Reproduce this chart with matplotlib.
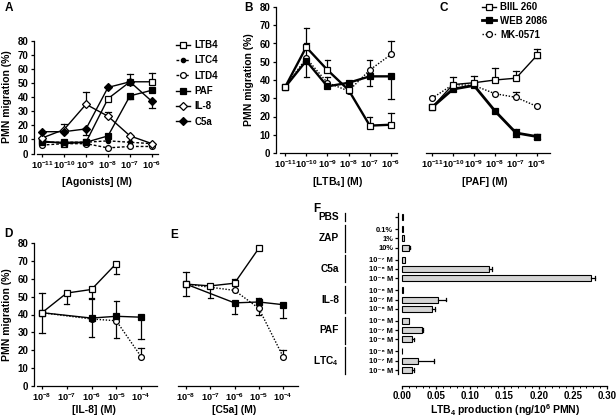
import numpy as np
import matplotlib
matplotlib.use("Agg")
import matplotlib.pyplot as plt
from matplotlib.transforms import blended_transform_factory
from matplotlib.lines import Line2D

# ---------------- data ----------------
# Panel A : migration vs agonist concentration (log10 M)
a_exp = [-11, -10, -9, -8, -7, -6]
a_ltb4 = [9, 7, 8, 39, 51, 51]
a_ltc4 = [8, 8, 8, 9, 8, 7]
a_ltd4 = [6, 7, 7, 4, 5, 5]
a_paf = [8, 8, 8, 12.5, 41, 45]
a_il8 = [11, 17, 35, 26.5, 12.5, 7]
a_c5a = [15.5, 15.5, 17.5, 47, 51, 37]
a_ltb4_hi = [0, 0, 0, 0, 0, 6]
a_paf_lo = [0, 0, 0, 0, 2, 0]
a_il8_hi = [0, 3.7, 8.5, 3, 0, 0]
a_c5a_hi = [0, 0, 0, 0, 5.5, 0]
a_c5a_lo = [0, 0, 4, 0, 0, 4.5]

# Panel B : [LTB4]
b_exp = [-11, -10, -9, -8, -7, -6]
b_biil = [36, 58, 45.5, 34.5, 15, 15.5]
b_biil_hi = [0, 10.5, 5.5, 0, 5, 6.5]
b_web = [36, 50.5, 36.5, 38.5, 42, 42]
b_web_lo = [0, 9, 0, 0, 5.5, 12.5]
b_mk = [36, 52, 38.5, 34, 45.5, 54]
b_mk_hi = [0, 8, 3, 0, 5.5, 7.5]

# Panel C : [PAF]
c_exp = [-11, -10, -9, -8, -7, -6]
c_biil = [25, 37.5, 38.5, 40, 41, 53.5]
c_biil_hi = [0, 4, 3.5, 6.5, 4, 3.5]
c_biil_lo = [0, 0, 0, 0, 0, 1.5]
c_web = [25, 35, 37, 23, 11, 9]
c_web_hi = [0, 0, 0, 0, 2, 1.5]
c_web_lo = [0, 0, 0, 0, 2, 1.5]
c_mk = [30, 37.5, 37, 32.5, 30.5, 25.5]
c_mk_hi = [0, 0, 0, 0, 3, 0]

# Panel D : [IL-8]
d_ticks = [-8, -7, -6, -5, -4]
d_biil_x = [-8, -7, -6, -5]
d_biil = [41, 52, 54, 68.5]
d_biil_lo = [0, 6, 5, 6]
d_web_x = [-8, -6, -5, -4]
d_web = [41, 38, 39, 38.5]
d_web_hi = [11.3, 10.5, 8.3, 0]
d_web_lo = [11.3, 10.5, 12.2, 12]
d_mk_x = [-8, -6, -5, -4]
d_mk = [41, 37.5, 36.5, 16.5]
d_mk_hi = [0, 0, 0, 5]

# Panel E : [C5a]
e_ticks = [-8, -7, -6, -5, -4]
e_biil_x = [-8, -7, -6, -5]
e_biil = [57, 56, 57.5, 77]
e_biil_hi = [0, 0, 2.5, 0]
e_biil_lo = [0, 6.5, 0, 0]
e_web_x = [-8, -6, -5, -4]
e_web = [57, 46.5, 47, 45.5]
e_web_hi = [6.5, 0, 2.5, 0]
e_web_lo = [6.5, 6, 0, 7.5]
e_mk_x = [-8, -6, -5, -4]
e_mk = [57, 53.5, 43.5, 16.5]
e_mk_hi = [0, 0, 0, 3.5]
e_mk_lo = [0, 0, 4, 0]

# Panel F : LTB4 production
f_groups = ["PBS", "ZAP", "C5a", "IL-8", "PAF", "LTC$_4$"]
f_sub = [[""],
         ["0.1%", "1%", "10%"],
         ["10⁻⁷ M", "10⁻⁶ M", "10⁻⁵ M"],
         ["10⁻⁸ M", "10⁻⁷ M", "10⁻⁶ M"],
         ["10⁻⁸ M", "10⁻⁷ M", "10⁻⁶ M"],
         ["10⁻⁸ M", "10⁻⁷ M", "10⁻⁶ M"]]
f_vals = [[0.001],
          [0.001, 0.003, 0.010],
          [0.004, 0.128, 0.277],
          [0.002, 0.052, 0.044],
          [0.010, 0.029, 0.015],
          [0.0, 0.024, 0.015]]
f_err = [[0.0],
         [0.0, 0.0, 0.002],
         [0.0, 0.004, 0.005],
         [0.0, 0.013, 0.004],
         [0.0, 0.002, 0.002],
         [0.0, 0.023, 0.002]]
f_xticks = [0.00, 0.05, 0.10, 0.15, 0.20, 0.25, 0.30]

# ---------------- style ----------------
plt.rcParams.update({
    "font.family": ["Liberation Sans", "DejaVu Sans"],
    "font.weight": "bold",
    "mathtext.fontset": "custom",
    "mathtext.rm": "Liberation Sans:bold",
    "mathtext.it": "Liberation Sans:bold:italic",
    "mathtext.bf": "Liberation Sans:bold",
    "mathtext.sf": "Liberation Sans:bold",
    "axes.linewidth": 0.9,
})

W, H = 616, 418
fig = plt.figure(figsize=(W / 100, H / 100), dpi=100)
FS = 7


def pax(l, t, r, b):
    return fig.add_axes([l / W, 1 - b / H, (r - l) / W, (b - t) / H])


def curve_panel(l, t, r, b, t0, t1, exps, yaxis=True):
    ax = pax(l, t, r, b)
    ppd = (t1 - t0) / (exps[-1] - exps[0])
    xl = exps[0] - (t0 - l) / ppd
    xr = exps[-1] + (r - t1) / ppd
    ax.set_xlim(xl, xr)
    ax.set_ylim(0, 80)
    ax.set_xticks(exps)
    ax.set_xticklabels([rf"$10^{{{e}}}$" for e in exps])
    for s in ["top", "right"]:
        ax.spines[s].set_visible(False)
    if yaxis:
        ax.set_yticks(range(0, 81, 10))
        ax.spines["bottom"].set_bounds(exps[0] - 5 / ppd, xr)
    else:
        ax.spines["left"].set_visible(False)
        ax.set_yticks([])
    ax.tick_params(direction="out", length=2.5, width=0.9, pad=1.5, labelsize=FS)
    ax.tick_params(axis="x", labelsize=6.6)
    ax.patch.set_alpha(0)
    ax.ppd = ppd
    return ax


def ebar(ax, x, y, lo=None, hi=None):
    cw = 2.6 / ax.ppd
    n = len(x)
    lo = lo if lo is not None else [0] * n
    hi = hi if hi is not None else [0] * n
    for xi, yi, l, h in zip(x, y, lo, hi):
        for d in (h, -l):
            if d != 0:
                ax.plot([xi, xi], [yi, yi + d], color="k", lw=0.9, zorder=2, clip_on=False)
                ax.plot([xi - cw, xi + cw], [yi + d, yi + d], color="k", lw=0.9, zorder=2, clip_on=False)


dash = (0, (2, 1.4))
dot = (0, (1, 1.2))
OS = dict(marker="s", mfc="white", mec="k", mew=0.9, ms=4.2)
FSQ = dict(marker="s", mfc="k", mec="k", mew=0.9, ms=4.2)
OC = dict(marker="o", mfc="white", mec="k", mew=0.9, ms=4.2)


def series(ax, x, y, lw=1.0, ls="-", label=None, **mk):
    ax.plot(x, y, color="k", lw=lw, ls=ls, zorder=3, clip_on=False, label=label, **mk)


# ---------------- Panel A ----------------
axA = curve_panel(34, 41, 158, 153.5, 42, 152, a_exp)
ebar(axA, a_exp, a_ltb4, hi=a_ltb4_hi)
ebar(axA, a_exp, a_paf, lo=a_paf_lo)
ebar(axA, a_exp, a_il8, hi=a_il8_hi)
ebar(axA, a_exp, a_c5a, lo=a_c5a_lo, hi=a_c5a_hi)
series(axA, a_exp, a_ltb4, label="LTB4", **OS)
series(axA, a_exp, a_ltc4, ls=dash, label="LTC4", marker="o", mfc="k", mec="k", ms=3)
series(axA, a_exp, a_ltd4, ls=dash, label="LTD4", **OC)
series(axA, a_exp, a_paf, label="PAF", **FSQ)
series(axA, a_exp, a_il8, label="IL-8", marker="D", mfc="white", mec="k", mew=0.9, ms=4.4)
series(axA, a_exp, a_c5a, label="C5a", marker="D", mfc="k", mec="k", mew=0.9, ms=4.4)
axA.legend(loc="upper left", bbox_to_anchor=(176 / W, 1 - 40 / H), bbox_transform=fig.transFigure,
           frameon=False, fontsize=FS, handlelength=1.4, handletextpad=0.5, labelspacing=0.55,
           borderpad=0, borderaxespad=0)

# ---------------- Panel B ----------------
axB = curve_panel(276, 7, 397, 153, 285, 391, b_exp)
ebar(axB, b_exp, b_biil, hi=b_biil_hi)
ebar(axB, b_exp, b_web, lo=b_web_lo)
ebar(axB, b_exp, b_mk, hi=b_mk_hi)
series(axB, b_exp, b_mk, ls=dot, **OC)
series(axB, b_exp, b_web, lw=1.7, **FSQ)
series(axB, b_exp, b_biil, lw=1.7, **OS)

# ---------------- Panel C ----------------
axC = curve_panel(426, 7, 550, 153, 432, 537, c_exp, yaxis=False)
ebar(axC, c_exp, c_biil, lo=c_biil_lo, hi=c_biil_hi)
ebar(axC, c_exp, c_web, lo=c_web_lo, hi=c_web_hi)
ebar(axC, c_exp, c_mk, hi=c_mk_hi)
series(axC, c_exp, c_mk, ls=dot, label="MK-0571", **OC)
series(axC, c_exp, c_web, lw=2.0, label="WEB 2086", **FSQ)
series(axC, c_exp, c_biil, lw=1.0, label="BIIL 260", **OS)
hC, lC = axC.get_legend_handles_labels()
order = [2, 1, 0]
axC.legend([hC[i] for i in order], [lC[i] for i in order], loc="upper left",
           bbox_to_anchor=(482 / W, 1 - 2 / H), bbox_transform=fig.transFigure,
           frameon=False, fontsize=FS, handlelength=1.4, handletextpad=0.5, labelspacing=0.4,
           borderpad=0, borderaxespad=0)

# ---------------- Panel D ----------------
axD = curve_panel(34, 243, 157, 386, 42, 141, d_ticks)
ebar(axD, d_biil_x, d_biil, lo=d_biil_lo)
ebar(axD, d_web_x, d_web, lo=d_web_lo, hi=d_web_hi)
ebar(axD, d_mk_x, d_mk, hi=d_mk_hi)
series(axD, d_mk_x, d_mk, ls=dot, **OC)
series(axD, d_web_x, d_web, **FSQ)
series(axD, d_biil_x, d_biil, **OS)

# ---------------- Panel E ----------------
axE = curve_panel(178, 243, 298, 386, 186, 283, e_ticks, yaxis=False)
ebar(axE, e_biil_x, e_biil, lo=e_biil_lo, hi=e_biil_hi)
ebar(axE, e_web_x, e_web, lo=e_web_lo, hi=e_web_hi)
ebar(axE, e_mk_x, e_mk, lo=e_mk_lo, hi=e_mk_hi)
series(axE, e_mk_x, e_mk, ls=dot, **OC)
series(axE, e_web_x, e_web, **FSQ)
series(axE, e_biil_x, e_biil, **OS)

# ---------------- Panel F ----------------
gap = 1.3
pos, labs, vals, errs, spans = [], [], [], [], []
cur = 0.0
for gi, (subs, vs, es) in enumerate(zip(f_sub, f_vals, f_err)):
    start = cur
    for s, v, e in zip(subs, vs, es):
        pos.append(cur); labs.append(s); vals.append(v); errs.append(e)
        cur += 1
    spans.append((start, cur - 1))
    cur += gap - 1
unit = (370 - 217) / pos[-1]
top_pos = -(217 - 205) / unit
bot_pos = (386 - 217) / unit
x0px, x30px = 402, 607
ppu = (x30px - x0px) / 0.30
axF = pax(398, 205, 608, 386)
axF.set_xlim(-(x0px - 398) / ppu, 0.30 + (608 - x30px) / ppu)
axF.set_ylim(bot_pos, top_pos)
axF.barh(pos, vals, height=0.65, color="#d4d4d4", edgecolor="k", lw=0.8, zorder=2)
capw = 0.2
for p, v, e in zip(pos, vals, errs):
    if e > 0:
        axF.plot([v, v + e], [p, p], color="k", lw=0.9, zorder=3)
        axF.plot([v + e, v + e], [p - capw, p + capw], color="k", lw=0.9, zorder=3)
for s in ["top", "right"]:
    axF.spines[s].set_visible(False)
axF.spines["left"].set_bounds(pos[0] - 0.45, pos[-1] + 0.45)
axF.spines["bottom"].set_bounds(0, 0.30)
axF.set_yticks(pos)
axF.set_yticklabels(labs)
axF.set_xticks(f_xticks)
axF.set_xticklabels([f"{v:.2f}" for v in f_xticks])
axF.set_xticks(np.arange(0, 0.301, 0.01), minor=True)
axF.tick_params(axis="both", direction="out", length=2.5, width=0.9, pad=1.2, labelsize=FS)
axF.tick_params(axis="y", labelsize=5.4, pad=1)
axF.tick_params(axis="x", which="minor", length=1.5, width=0.7)
axF.patch.set_alpha(0)
trF = blended_transform_factory(fig.transFigure, axF.transData)
for g, (a, b) in zip(f_groups, spans):
    fig.text(339 / W, (a + b) / 2, g, transform=trF, ha="right", va="center", fontsize=FS + 0.3)
    fig.add_artist(Line2D([345 / W, 345 / W], [a - 0.45, b + 0.45], transform=trF, color="k", lw=0.9))

# ---------------- labels ----------------
def ftxt(x, y, s, **kw):
    fig.text(x / W, 1 - y / H, s, ha=kw.pop("ha", "center"), va=kw.pop("va", "center"), **kw)

ftxt(5, 8, "A", ha="left", fontsize=8.5)
ftxt(244, 8, "B", ha="left", fontsize=8.5)
ftxt(440, 8, "C", ha="left", fontsize=8.5)
ftxt(4, 234, "D", ha="left", fontsize=8.5)
ftxt(170, 235, "E", ha="left", fontsize=8.5)
ftxt(313, 209, "F", ha="left", fontsize=8.5)

ftxt(7, 97, "PMN migration (%)", rotation=90, fontsize=FS + 0.5)
ftxt(249, 80, "PMN migration (%)", rotation=90, fontsize=FS + 0.5)
ftxt(7, 315, "PMN migration (%)", rotation=90, fontsize=FS + 0.5)

ftxt(97, 182, "[Agonists] (M)", fontsize=FS + 0.5)
ftxt(338, 182, "[LTB$_4$] (M)", fontsize=FS + 0.5)
ftxt(485, 182, "[PAF] (M)", fontsize=FS + 0.5)
ftxt(94, 410, "[IL-8] (M)", fontsize=FS + 0.5)
ftxt(234, 410, "[C5a] (M)", fontsize=FS + 0.5)
ftxt(505, 410, "LTB$_4$ production (ng/10$^6$ PMN)", fontsize=FS + 0.5)

fig.savefig("out.png", dpi=100)
